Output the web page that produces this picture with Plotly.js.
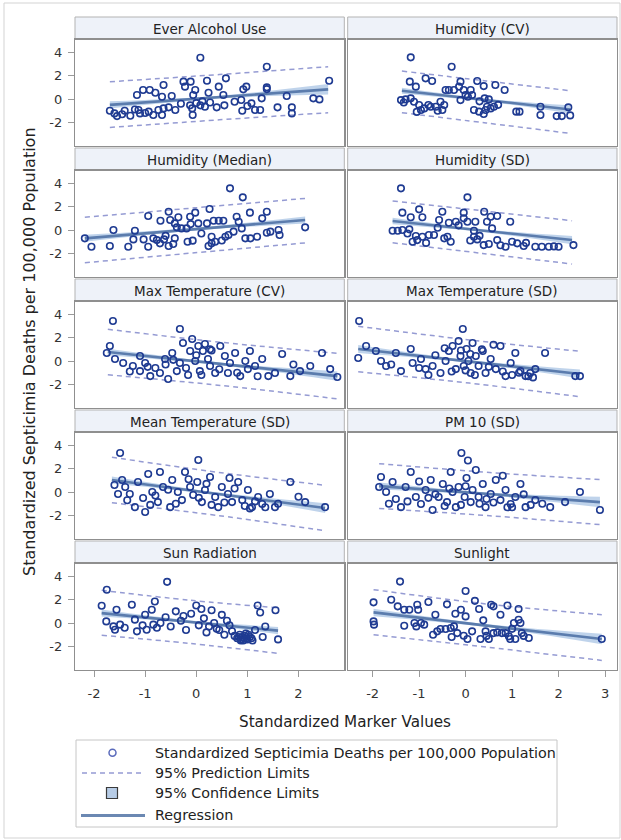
<!DOCTYPE html>
<html><head><meta charset="utf-8">
<script src="https://cdn.plot.ly/plotly-3.0.1.min.js"></script>
<style>html,body{margin:0;padding:0;background:#fff;}#chart{width:621px;height:840px;}</style>
</head><body><div id="chart"></div>
<script>
// ---------- data ----------
const panelTitles = ["Ever Alcohol Use","Humidity (CV)","Humidity (Median)","Humidity (SD)",
  "Max Temperature (CV)","Max Temperature (SD)","Mean Temperature (SD)","PM 10 (SD)",
  "Sun Radiation","Sunlight"];

const xEver = [-1.69,-1.6,-1.55,-1.45,-1.29,-1.16,-1.13,-1.1,-1.04,-1.0,-0.93,-0.91,-0.84,-0.8,-0.74,-0.67,-0.67,-0.64,-0.64,-0.54,-0.48,-0.41,-0.25,-0.22,-0.12,-0.11,-0.08,-0.07,-0.06,-0.02,0.08,0.08,0.17,0.21,0.24,0.27,0.40,0.44,0.53,0.55,0.58,0.75,0.88,0.90,0.92,0.98,1.08,1.15,1.25,1.28,1.38,1.38,1.38,1.59,1.77,1.87,1.87,2.29,2.41,2.6,-1.4,-1.2,-0.3,0.0,0.12,1.0];
const yEver = [-1.0,-1.23,-1.46,-1.3,-1.43,0.34,-0.94,-1.23,0.77,-1.2,-1.08,0.77,-1.37,0.54,-0.94,-1.37,0.2,1.2,-0.8,-0.71,0.26,-0.94,1.49,1.06,-0.54,1.49,-0.8,-1.37,0.34,0.77,3.54,-0.54,-0.66,1.57,0.54,-0.3,-0.71,1.06,0.34,-0.54,1.77,-0.23,-0.08,-1.0,0.83,1.06,-0.37,-0.94,-0.94,0.06,2.77,1.0,0.85,-0.71,0.26,-0.71,-1.23,0.06,-0.03,1.57,-1.0,-0.9,-0.4,-0.35,-0.2,-0.6];

const xHumCV = [-1.18,-0.3,-1.2,-1.07,-0.86,-0.72,-1.39,-1.29,-1.18,-1.11,-1.0,-0.96,-0.89,-0.8,-0.75,-0.64,-0.54,-0.5,-0.46,-0.43,-0.36,-0.25,-0.14,-0.11,-0.11,-0.04,0.0,0.11,0.14,0.25,0.39,0.18,0.29,0.39,0.43,0.46,0.54,0.61,0.41,0.5,0.64,0.84,1.09,1.16,1.61,1.61,1.96,2.07,2.21,2.25,-1.33,-1.05,-0.6,0.05,0.3,0.7];
const yHumCV = [3.57,2.77,1.49,1.06,1.77,1.54,-0.09,-0.03,0.06,-0.23,-0.51,-0.94,-0.8,-0.51,-0.66,-0.66,-0.23,-0.94,-0.51,0.77,0.77,0.77,1.06,1.49,-0.09,0.77,0.34,0.77,0.34,1.54,1.11,-0.94,-1.08,-1.28,-0.94,-0.66,-0.8,-0.66,0.06,-0.03,1.2,0.77,-1.08,-1.08,-1.37,-0.66,-1.46,-1.46,-0.71,-1.4,-0.3,-1.1,-1.0,0.2,-0.2,-0.5];

const xHumMed = [-2.18,-2.05,-1.69,-1.62,-1.33,-1.2,-1.23,-1.03,-0.94,-0.94,-0.84,-0.77,-0.71,-0.7,-0.63,-0.54,-0.54,-0.51,-0.45,-0.42,-0.42,-0.35,-0.38,-0.29,-0.19,-0.12,-0.11,-0.17,-0.07,-0.02,0.04,0.21,0.26,0.24,0.3,0.3,0.37,0.34,0.44,0.53,0.57,0.63,0.73,0.66,0.79,0.83,0.91,0.89,0.96,1.05,1.06,1.19,1.29,1.38,1.38,1.45,1.61,1.63,2.13,-0.6,0.1,0.5];
const yHumMed = [-0.71,-1.43,-1.37,0.0,-1.43,-0.06,-0.8,-0.8,1.2,-1.43,-0.71,-0.86,-1.14,0.8,-0.8,1.57,-1.37,0.86,-1.2,0.57,-0.71,1.09,0.23,0.14,0.14,1.14,0.51,-1.0,-0.91,1.49,0.57,0.57,1.8,-1.37,-0.57,-1.14,-1.0,0.8,0.8,0.8,-0.57,-0.43,-0.14,3.57,1.14,0.71,2.8,0.14,-0.71,1.49,-0.71,-0.57,1.0,1.57,-0.23,-0.14,0.0,-0.43,0.23,-0.5,-0.3,-0.9];

const xHumSD = [-1.39,0.04,-1.36,-1.18,-1.0,-0.93,-0.5,-0.57,-1.57,-1.46,-1.36,-1.21,-1.14,-1.04,-1.07,-0.93,-0.79,-0.68,-0.46,-0.39,-0.32,-0.36,-0.21,-0.04,-0.04,0.04,0.18,0.21,0.18,0.25,0.39,0.4,0.46,0.57,0.54,0.68,0.68,0.86,0.96,1.0,1.11,1.25,1.5,1.64,1.79,2.0,2.32,-1.25,-0.85,-0.6,-0.15,0.1,0.3,0.5,0.75,1.3,1.9];
const yHumSD = [3.57,2.8,1.49,1.09,1.77,1.09,1.57,0.86,-0.06,-0.06,0.0,0.06,-1.0,-0.86,-0.51,-0.57,-0.43,-0.43,-0.71,-0.57,-1.0,0.63,0.71,1.49,1.0,0.71,-0.06,0.71,-0.57,-0.8,-1.29,1.57,0.71,0.14,1.14,1.2,-0.86,-1.43,0.71,-1.0,-1.14,-1.37,-1.43,-1.43,-1.43,-1.43,-1.29,-0.3,-1.1,0.2,0.4,-0.9,-0.5,-1.2,-1.3,-1.1,-1.4];

const xMaxCV = [-1.63,-1.69,-1.75,-1.59,-1.43,-1.24,-1.1,-1.0,-0.8,-0.71,-0.47,-0.38,-0.32,-0.26,-0.12,-0.08,-0.02,0.04,0.07,0.13,0.17,0.23,0.27,0.37,0.47,0.56,0.66,0.76,0.86,0.96,1.05,1.15,1.29,1.41,1.68,1.84,2.03,2.23,2.46,2.62,2.76,-0.9,-0.55,-0.16,0.62,1.01,1.54,-0.32,-0.61,-1.1,0.27,-1.3,-0.95,-0.6,-0.2,0.0,0.1,0.3,0.45,0.8,1.2,1.9,-0.45];
const yMaxCV = [3.43,1.29,0.69,0.17,-0.17,-0.43,-0.86,-0.17,-0.6,-1.03,0.69,-0.86,2.74,1.54,0.86,1.89,0.0,1.29,-0.86,0.86,1.46,0.17,-0.43,-1.03,1.29,0.43,-0.17,0.69,-1.29,0.0,0.86,-0.43,0.17,-1.29,0.6,-1.29,-0.86,-0.43,0.69,-0.69,-1.37,-1.29,-1.54,-1.2,-1.03,-0.69,-1.03,-0.17,0.17,0.43,1.0,-0.9,-0.5,-0.3,-0.6,0.5,-1.2,0.9,-0.7,-1.0,-1.3,-0.3,0.1];

const xMaxSD = [-2.29,-2.31,-2.14,-1.93,-1.82,-1.71,-1.5,-1.39,-1.18,-1.14,-0.96,-0.86,-0.71,-0.54,-0.43,-0.36,-0.28,-0.21,-0.15,-0.11,-0.06,-0.04,0.02,0.06,0.11,0.15,0.22,0.28,0.37,0.43,0.54,0.65,0.75,0.86,0.97,1.07,1.18,1.29,1.39,1.5,1.71,2.36,2.46,-1.6,-1.0,-0.65,-0.3,-0.1,0.0,0.2,0.35,0.5,0.6,0.8,1.0,1.15,1.35,1.45,-0.8,0.1,-0.45];
const yMaxSD = [3.43,0.26,1.29,0.86,0.0,-0.43,0.69,-0.86,1.03,-0.17,0.17,-0.69,-0.43,-1.03,0.0,0.86,1.29,-0.69,1.71,0.43,2.74,-0.43,1.03,0.0,-1.03,1.54,0.43,-0.43,0.86,-1.03,0.17,-0.69,1.29,-1.29,-0.17,0.69,-0.86,-1.29,-1.03,-0.69,0.69,-1.29,-1.29,-0.3,-0.6,0.5,-0.9,0.9,-0.8,-1.2,1.0,-0.5,1.4,-0.9,-1.2,-1.0,-1.3,-1.4,-1.2,0.6,1.1];

const xMeanSD = [-1.49,-1.45,-1.53,-1.39,-1.3,-1.14,-1.04,-0.94,-0.86,-0.75,-0.65,-0.51,-0.47,-0.36,-0.28,-0.22,-0.12,-0.06,0.02,0.04,0.11,0.17,0.27,0.37,0.43,0.5,0.62,0.7,0.82,0.9,1.01,1.09,1.21,1.29,1.44,1.54,1.84,2.13,2.52,-1.2,-1.0,-0.71,-1.6,-1.35,-0.9,-0.55,-0.4,-0.15,0.05,0.3,0.55,0.75,0.95,1.15,1.35,1.6,2.0,-0.8,0.2,0.65,1.05];
const yMeanSD = [3.34,1.03,-0.17,0.43,-0.17,0.86,-0.51,1.54,0.0,-0.86,0.43,-1.29,1.03,0.0,-0.69,1.71,0.43,-0.26,0.86,2.74,-0.86,0.17,1.29,-0.43,-1.29,0.43,-0.17,-0.86,0.86,-0.69,0.17,-1.29,-0.43,-1.03,-0.17,-1.29,0.86,-0.86,-1.29,-1.29,-1.71,1.71,0.6,-0.7,-1.1,0.2,-1.0,1.1,-0.5,-1.1,-0.9,0.3,-1.2,-0.8,-1.3,-1.0,-0.4,-0.3,0.7,1.2,-1.4];

const xPM10 = [-1.86,-1.82,-1.71,-1.57,-1.5,-1.39,-1.29,-1.18,-1.07,-0.96,-0.86,-0.75,-0.71,-0.58,-0.49,-0.4,-0.32,-0.28,-0.21,-0.15,-0.09,-0.02,0.02,0.11,0.15,0.22,0.28,0.37,0.43,0.54,0.65,0.75,0.86,0.97,1.07,1.18,1.29,1.5,1.82,2.14,2.89,2.46,-1.65,-1.25,-1.0,-0.65,-0.45,-0.1,0.05,0.3,0.6,0.8,1.0,1.25,1.4,1.65,-0.35,0.45,-0.8,0.0,0.9];
const yPM10 = [0.43,1.29,0.0,0.86,-0.6,-1.29,0.43,1.71,-0.43,-1.03,0.17,1.03,-1.54,-0.43,0.69,-0.86,1.71,0.0,-1.29,0.43,3.34,-0.43,1.2,-0.86,0.17,1.89,-0.43,0.69,-1.29,-0.17,1.03,-0.69,0.17,-1.03,-0.43,0.69,-1.29,-0.69,-1.29,-0.86,-1.54,0.0,-1.0,-0.8,0.9,-0.2,-1.2,-1.1,2.7,-1.0,-0.9,1.4,-1.3,-0.2,-1.1,-1.0,0.3,-0.6,-0.5,0.5,-1.3];

const xSunRad = [-1.75,-0.57,-1.85,-1.76,-1.56,-1.26,-1.59,-1.49,-1.62,-1.2,-1.16,-1.0,-0.97,-0.87,-0.84,-0.77,-0.81,-0.6,-0.5,-0.4,-0.3,-0.2,-0.1,0.0,0.05,0.1,0.15,0.2,0.3,0.35,0.4,0.5,0.55,0.6,0.7,0.75,0.8,0.85,0.88,0.9,0.92,0.95,0.98,1.0,1.02,1.05,1.1,1.15,1.2,1.25,1.3,1.35,1.55,1.6,-1.4,-1.05,-0.7,-0.25,0.25,0.45,0.65,0.83,0.87,0.93,0.97,1.08];
const ySunRad = [2.85,3.53,1.48,0.14,1.14,1.57,-0.57,-0.14,-0.29,0.29,-0.71,0.71,-0.57,1.14,-0.14,-0.4,1.85,0.5,-0.3,1.0,0.2,-0.6,0.8,1.5,-0.2,1.2,0.4,-0.8,1.1,0.0,-0.5,0.7,-1.0,0.2,-0.7,-1.1,-1.3,-1.0,-1.4,-1.2,-1.5,-1.1,-1.3,-1.4,-1.0,-1.2,-1.5,-0.6,1.5,0.9,-1.2,-0.3,1.1,-1.4,-0.4,-0.2,0.0,0.6,-0.3,-0.6,-0.2,-1.2,-1.5,-1.3,-0.9,-1.3];

const xSunlight = [-1.98,-1.98,-1.97,-1.46,-1.32,-1.21,-1.04,-1.02,-1.1,-1.06,-1.32,-0.96,-0.89,-0.65,-0.7,-0.61,-0.54,-0.43,-0.32,-0.25,-0.22,-0.1,-0.18,-0.04,0.0,0.04,0.14,0.29,0.32,0.38,0.43,0.5,0.55,0.6,0.6,0.68,0.75,0.78,0.86,0.93,0.96,1.04,1.07,1.14,1.14,1.18,1.21,1.36,2.93,-1.41,0.0,-1.6,-0.8,-0.4,0.2,0.9,1.0,1.25,-0.3,0.45];
const ySunlight = [1.77,0.14,-0.14,1.43,1.14,1.14,1.57,1.14,0.0,-0.29,-0.23,0.0,-0.14,0.71,-1.0,-0.71,-0.51,-0.51,-0.43,-0.29,0.8,1.14,-0.86,-1.09,0.57,-1.37,-0.71,1.2,-1.37,0.23,-0.71,-1.37,1.57,1.43,-0.86,-0.8,0.71,-0.86,-0.86,-1.14,-1.37,0.0,-1.37,1.2,0.28,0.0,-0.86,-1.28,-1.37,3.55,2.75,2.0,1.8,1.6,1.9,1.5,-0.5,-1.1,-1.2,-1.1];

// fitted lines: [left end, middle, right end] per panel
const fitX = [[-1.69,0.45,2.58],[-1.37,0.44,2.25],[-2.18,-0.03,2.13],[-1.57,0.36,2.29],[-1.73,0.5,2.76],
  [-2.31,0.08,2.46],[-1.65,0.44,2.52],[-1.86,0.52,2.89],[-1.85,-0.12,1.6],[-1.98,0.48,2.93]];
const fitY = [[-0.5,0.17,0.83],[0.71,-0.09,-0.89],[-0.71,0.08,0.86],[0.77,-0.05,-0.86],[0.77,-0.26,-1.29],
  [1.03,-0.04,-1.11],[1.03,-0.17,-1.37],[0.51,-0.18,-0.86],[0.85,0.1,-0.65],[0.91,-0.23,-1.37]];
const clmLow = [[-0.8,0.05,0.38],[0.46,-0.21,-1.24],[-1.01,-0.04,0.56],[0.49,-0.17,-1.21],[0.49,-0.38,-1.69],
  [0.68,-0.16,-1.49],[0.73,-0.29,-1.79],[0.21,-0.3,-1.31],[0.55,-0.02,-0.97],[0.59,-0.35,-1.82]];
const clmHigh = [[-0.2,0.29,1.28],[0.96,0.03,-0.54],[-0.41,0.2,1.16],[1.05,0.07,-0.51],[1.05,-0.14,-0.89],
  [1.38,0.08,-0.73],[1.33,-0.05,-0.95],[0.81,-0.06,-0.41],[1.15,0.22,-0.33],[1.23,-0.11,-0.92]];
const pHigh = [[1.48,2.1,2.77],[2.4,1.55,0.71],[1.09,1.9,2.71],[2.49,1.65,0.8],[2.72,1.6,0.66],
  [2.98,1.81,0.84],[2.98,1.68,0.58],[2.43,1.67,1.07],[2.8,1.95,1.3],[2.86,1.62,0.71]];
const pLow = [[-2.43,-1.78,-1.17],[-1.17,-2.05,-2.94],[-2.8,-1.95,-1.1],[-1.09,-2.0,-2.91],[-1.18,-2.1,-3.24],
  [-0.92,-1.89,-3.06],[-0.92,-2.02,-3.32],[-1.41,-2.03,-2.79],[-1.05,-1.75,-2.6],[-1.0,-2.08,-3.2]];

const yTickVals = [-2,0,2,4];
const yTickText = ["-2","0","2","4"];
const xTickValsLeft = [-2,-1,0,1,2];
const xTickTextLeft = ["-2","-1","0","1","2"];
const xTickValsRight = [-2,-1,0,1,2,3];
const xTickTextRight = ["-2","-1","0","1","2","3"];

const legendLabels = ["Standardized Septicimia Deaths per 100,000 Population","95% Prediction Limits","95% Confidence Limits","Regression"];
const xTitle = "Standardized Marker Values";
const yTitle = "Standardized Septicimia Deaths per 100,000 Population";

const pointsX = [xEver,xHumCV,xHumMed,xHumSD,xMaxCV,xMaxSD,xMeanSD,xPM10,xSunRad,xSunlight];
const pointsY = [yEver,yHumCV,yHumMed,yHumSD,yMaxCV,yMaxSD,yMeanSD,yPM10,ySunRad,ySunlight];

// ---------- layout geometry (pixels) ----------
const W = 621, H = 840;
const FONT = "DejaVu Sans";
const colX = [[75,344.3],[347.7,617]];
const rowTop0 = 17, rowPitch = 131, headH = 22.5, plotH = 106;
const xRanges = [[-2.372,2.896],[-2.536,3.257]];
const yRange = [-3.98,5.10];
const px = p => p / W;
const py = p => 1 - p / H;

const traces = [];
const layout = {
  width: W, height: H, margin: {l:0,r:0,t:0,b:0},
  paper_bgcolor: "#fff", plot_bgcolor: "#fff", showlegend: false,
  font: {family: FONT, color: "#222"},
  shapes: [], annotations: []
};

const bandColor = "rgba(138,174,218,0.55)";
const regColor = "#5b7cad";
const piColor = "#959bd3";
const markColor = "#1f3b92";

for (let i = 0; i < 10; i++) {
  const r = Math.floor(i / 2), c = i % 2;
  const id = i === 0 ? "" : String(i + 1);
  const xa = "x" + id, ya = "y" + id;
  const headTop = rowTop0 + rowPitch * r;
  const plotTop = headTop + headH;
  const plotBot = plotTop + plotH;
  const bottomRow = r === 4, leftCol = c === 0;

  layout["xaxis" + id] = {
    domain: [px(colX[c][0]), px(colX[c][1])], range: xRanges[c], anchor: ya,
    showgrid: false, zeroline: false, showline: true, mirror: true,
    linecolor: "#8f8f8f", linewidth: 1.2,
    ticks: bottomRow ? "outside" : "", ticklen: 6, tickwidth: 1, tickcolor: "#9a9a9a",
    tickmode: "array", tickvals: c === 0 ? xTickValsLeft : xTickValsRight,
    ticktext: c === 0 ? xTickTextLeft : xTickTextRight,
    showticklabels: bottomRow, ticklabelstandoff: 6,
    tickfont: {family: FONT, size: 13, color: "#333"}, fixedrange: true
  };
  layout["yaxis" + id] = {
    domain: [py(plotBot), py(plotTop)], range: yRange, anchor: xa,
    showgrid: false, zeroline: false, showline: true, mirror: true,
    linecolor: "#8f8f8f", linewidth: 1.2,
    ticks: leftCol ? "outside" : "", ticklen: 6, tickwidth: 1, tickcolor: "#9a9a9a",
    tickmode: "array", tickvals: yTickVals, ticktext: yTickText,
    showticklabels: leftCol, ticklabelstandoff: 3,
    tickfont: {family: FONT, size: 13, color: "#333"}, fixedrange: true
  };

  // header strip
  layout.shapes.push({type: "rect", xref: "paper", yref: "paper",
    x0: px(colX[c][0]), x1: px(colX[c][1]), y0: py(headTop + headH), y1: py(headTop),
    fillcolor: "#eef2f9", line: {color: "#b3b3b3", width: 1}, layer: "below"});
  layout.annotations.push({xref: "paper", yref: "paper",
    x: px((colX[c][0] + colX[c][1]) / 2), y: py(headTop + headH / 2 + 0.5),
    text: panelTitles[i], showarrow: false, xanchor: "center", yanchor: "middle",
    font: {family: FONT, size: 13.5, color: "#222"}});

  // confidence band
  traces.push({x: fitX[i], y: clmLow[i], xaxis: xa, yaxis: ya, mode: "lines",
    line: {width: 0, shape: "spline", color: bandColor}, hoverinfo: "skip"});
  traces.push({x: fitX[i], y: clmHigh[i], xaxis: xa, yaxis: ya, mode: "lines",
    line: {width: 0, shape: "spline", color: bandColor}, fill: "tonexty", fillcolor: bandColor, hoverinfo: "skip"});
  // prediction limits
  traces.push({x: fitX[i], y: pHigh[i], xaxis: xa, yaxis: ya, mode: "lines",
    line: {width: 1.5, color: piColor, dash: "5px,4px", shape: "spline"}, hoverinfo: "skip"});
  traces.push({x: fitX[i], y: pLow[i], xaxis: xa, yaxis: ya, mode: "lines",
    line: {width: 1.5, color: piColor, dash: "5px,4px", shape: "spline"}, hoverinfo: "skip"});
  // regression
  traces.push({x: fitX[i], y: fitY[i], xaxis: xa, yaxis: ya, mode: "lines",
    line: {width: 2.6, color: regColor}, hoverinfo: "skip"});
  // points
  traces.push({x: pointsX[i], y: pointsY[i], xaxis: xa, yaxis: ya, mode: "markers",
    marker: {symbol: "circle-open", size: 6.5, color: markColor, line: {width: 1.6, color: markColor}}});
}

// outer border
layout.shapes.push({type: "rect", xref: "paper", yref: "paper", x0: px(4), x1: px(620), y0: py(838), y1: py(3),
  line: {color: "#d3d3d3", width: 1}, fillcolor: "rgba(0,0,0,0)", layer: "below"});

// axis titles
layout.annotations.push({xref: "paper", yref: "paper", x: px(345), y: py(722), text: xTitle,
  showarrow: false, xanchor: "center", yanchor: "middle", font: {family: FONT, size: 15.2, color: "#222"}});
layout.annotations.push({xref: "paper", yref: "paper", x: px(29), y: py(352), text: yTitle, textangle: -90,
  showarrow: false, xanchor: "center", yanchor: "middle", font: {family: FONT, size: 16, color: "#222"}});

// legend box and keys
layout.shapes.push({type: "rect", xref: "paper", yref: "paper", x0: px(76), x1: px(557), y0: py(827), y1: py(740),
  line: {color: "#c6c6c6", width: 1}, fillcolor: "rgba(0,0,0,0)"});
layout.shapes.push({type: "circle", xref: "paper", yref: "paper", x0: px(109), x1: px(116), y0: py(756.2), y1: py(749.2),
  line: {color: "#5a6abb", width: 1.5}, fillcolor: "rgba(0,0,0,0)"});
layout.shapes.push({type: "line", xref: "paper", yref: "paper", x0: px(82), x1: px(141), y0: py(773), y1: py(773),
  line: {color: piColor, width: 1.5, dash: "5px,4px"}});
layout.shapes.push({type: "rect", xref: "paper", yref: "paper", x0: px(106.5), x1: px(117.5), y0: py(798.5), y1: py(787.5),
  line: {color: "#3a3a3a", width: 1.2}, fillcolor: "#b7cce6"});
layout.shapes.push({type: "line", xref: "paper", yref: "paper", x0: px(81), x1: px(145), y0: py(815.5), y1: py(815.5),
  line: {color: "#6b88b2", width: 3}});
const legendRowsY = [752.5, 773, 793, 814.5];
legendLabels.forEach((t, k) => {
  layout.annotations.push({xref: "paper", yref: "paper", x: px(153), y: py(legendRowsY[k]), text: t,
    showarrow: false, xanchor: "left", yanchor: "middle", font: {family: FONT, size: 14.3, color: "#222"}});
});

Plotly.newPlot("chart", traces, layout, {displayModeBar: false, staticPlot: true});
</script>
</body></html>
